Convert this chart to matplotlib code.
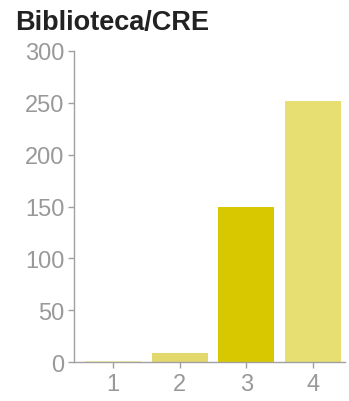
import matplotlib
matplotlib.use("Agg")
import matplotlib.pyplot as plt

categories = ["1", "2", "3", "4"]
values = [1, 9, 150, 252]
colors = ["#f4efb0", "#e2d86c", "#d8c800", "#e8df72"]
title = "Biblioteca/CRE"
yticks = [0, 50, 100, 150, 200, 250, 300]

plt.rcParams['font.family'] = ['Liberation Sans', 'DejaVu Sans']
fig = plt.figure(figsize=(3.49, 4.02), dpi=100)
L, R, B, T = 74, 345, 363, 52
ax = fig.add_axes([L/349, 1-B/402, (R-L)/349, (B-T)/402])
x = list(range(1, len(categories)+1))
ax.bar(x, values, width=0.84, color=colors)
ax.set_xlim(0.415, 4.48)
ax.set_ylim(0, 300)
ax.set_yticks(yticks)
ax.set_xticks(x)
ax.set_xticklabels(categories)
for s in ["top", "right"]:
    ax.spines[s].set_visible(False)
for s in ["left", "bottom"]:
    ax.spines[s].set_color("#a0a0a0")
    ax.spines[s].set_linewidth(1)
ax.tick_params(colors="#a0a0a0", labelcolor="#999999", labelsize=17, length=4, width=1)
ax.tick_params(axis="y", pad=3)
ax.tick_params(axis="x", pad=4)
fig.text(15/349, 1-23/402, title, fontsize=19.5, fontweight="bold", color="#222222", va="center", ha="left")
fig.savefig("out.png", dpi=100)
